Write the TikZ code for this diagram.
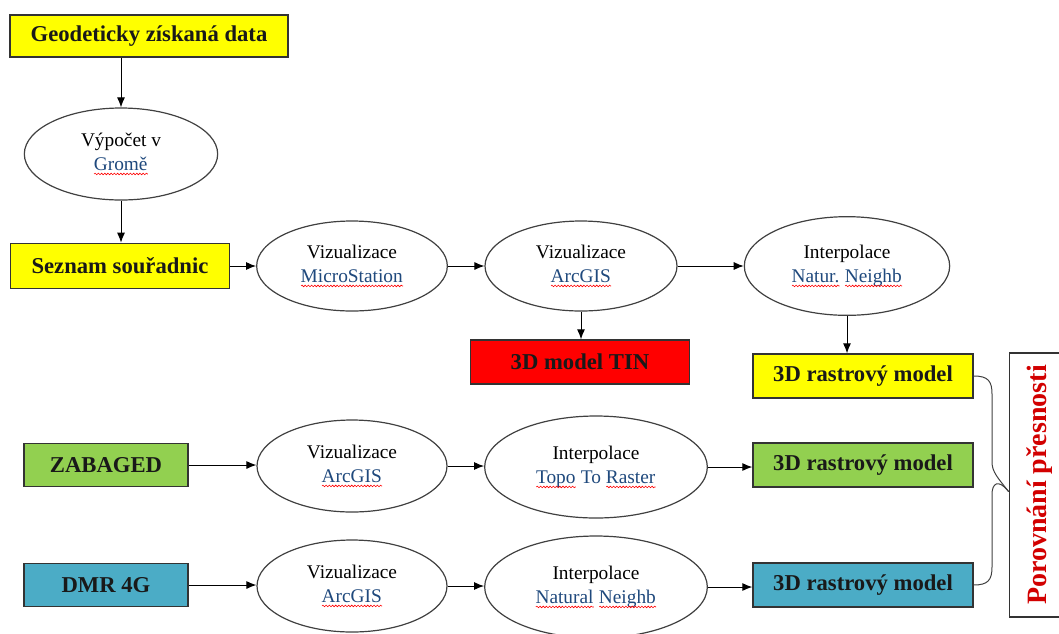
\documentclass[tikz,border=0pt]{standalone}
\usepackage{fontspec}
\setmainfont{Liberation Serif}
\usetikzlibrary{arrows.meta,shapes.geometric,decorations.pathmorphing}
\definecolor{boxyellow}{RGB}{255,255,0}
\definecolor{boxred}{RGB}{255,0,0}
\definecolor{boxgreen}{RGB}{146,208,80}
\definecolor{boxblue}{RGB}{75,172,198}
\definecolor{txtblue}{RGB}{31,73,125}
\definecolor{txtred}{RGB}{210,0,0}
% blue word with the red wavy underline of the spell checker
\newcommand\sw[1]{\setbox0\hbox{#1}\leavevmode\rlap{\textcolor{txtblue}{#1}}%
  \raisebox{-3.5pt}{\tikz\draw[red, line width=0.45pt, decorate,
    decoration={snake, amplitude=0.6pt, segment length=2.4pt}] (0pt,0pt) -- (\wd0,0pt);}}
\tikzset{every picture/.style={line width=0.75pt}}
\tikzset{
  databox/.style={draw=black!80, line width=1pt, inner sep=0pt, minimum height=33pt,
    font=\fontsize{17}{19}\selectfont\bfseries, text=black!90},
  stepell/.style={ellipse, draw=black!75, line width=0.9pt, fill=white, align=center,
    inner sep=0pt, font=\fontsize{14.5}{18}\selectfont},
  flow/.style={-{Latex[length=7.5pt,width=6pt]}, black},
}

\begin{document}
\begin{tikzpicture}[x=0.75pt,y=0.75pt,yscale=-1,xscale=1]
\path[use as bounding box, clip] (0,0) rectangle (1059,633);

% Boxes
\node (geo) [databox, fill=boxyellow, minimum width=208.5pt, minimum height=31.5pt] at (149,36) {Geodeticky získaná data};
\node (seznam) [databox, fill=boxyellow, minimum width=164pt, minimum height=34pt] at (120,266) {Seznam souřadnic};
\node (tin) [databox, fill=boxred, minimum width=164pt] at (580,362) {3D model TIN};
\node (rastrY) [databox, fill=boxyellow, minimum width=165pt] at (863,376) {3D rastrový model};
\node (zabaged) [databox, fill=boxgreen, minimum width=123pt, minimum height=32pt] at (106,465) {ZABAGED};
\node (rastrG) [databox, fill=boxgreen, minimum width=165pt] at (863,465) {3D rastrový model};
\node (dmr) [databox, fill=boxblue, minimum width=123pt, minimum height=32pt] at (106,585) {DMR 4G};
\node (rastrB) [databox, fill=boxblue, minimum width=165pt] at (863,585) {3D rastrový model};
\node (porov) [draw=black!80, line width=1pt, rotate=90, minimum width=198pt, minimum height=46pt,
  font=\fontsize{21}{24}\selectfont\bfseries, text=txtred] at (1040,485) {Porovnání přesnosti};

% Ellipses
\node (vypocet) [stepell, minimum width=145pt, minimum height=69pt] at (121,154) {Výpočet v\\\sw{Gromě}};
\node (vizMS) [stepell, minimum width=143pt, minimum height=67.5pt] at (352,266) {Vizualizace\\\sw{MicroStation}};
\node (vizAG) [stepell, minimum width=144pt, minimum height=67.5pt] at (581,266) {Vizualizace\\\sw{ArcGIS}};
\node (interNN) [stepell, minimum width=154pt, minimum height=74pt] at (847,266) {Interpolace\\\sw{Natur.} \sw{Neighb}};
\node (vizAG2) [stepell, minimum width=142.5pt, minimum height=69pt] at (352,466) {Vizualizace\\\sw{ArcGIS}};
\node (interTR) [stepell, minimum width=167pt, minimum height=76.5pt] at (596,467) {Interpolace\\\sw{Topo} \textcolor{txtblue}{To} \sw{Raster}};
\node (vizAG3) [stepell, minimum width=142.5pt, minimum height=69pt] at (352,586) {Vizualizace\\\sw{ArcGIS}};
\node (interNat) [stepell, minimum width=167pt, minimum height=76.5pt] at (596,587) {Interpolace\\\sw{Natural} \sw{Neighb}};

% Arrows
\draw [flow] (vypocet.north |- geo.south) -- (vypocet.north);
\draw [flow] (vypocet.south) -- (vypocet.south |- seznam.north);
\draw [flow] (seznam.east) -- (vizMS.west);
\draw [flow] (vizMS.east) -- (vizAG.west);
\draw [flow] (vizAG.east) -- (interNN.west);
\draw [flow] (vizAG.south) -- (vizAG.south |- tin.north);
\draw [flow] (interNN.south) -- (interNN.south |- rastrY.north);
\draw [flow] (zabaged.east) -- (zabaged.east -| vizAG2.west);
\draw [flow] (vizAG2.east) -- (vizAG2.east -| interTR.west);
\draw [flow] (interTR.east) -- (interTR.east -| rastrG.west);
\draw [flow] (dmr.east) -- (dmr.east -| vizAG3.west);
\draw [flow] (vizAG3.east) -- (vizAG3.east -| interNat.west);
\draw [flow] (interNat.east) -- (interNat.east -| rastrB.west);

% Brace
\coordinate (tip) at ([yshift=5pt]porov.north);
\draw [black!75] (rastrY.east) .. controls (988,376) and (992,381) .. (992,394) -- (992,462) .. controls (992,472) and (998,478) .. (tip);
\draw [black!75] (rastrB.east) .. controls (988,585) and (992,580) .. (992,567) -- (992,494) .. controls (992,484) and (998,478) .. (tip);

\end{tikzpicture}
\end{document}
